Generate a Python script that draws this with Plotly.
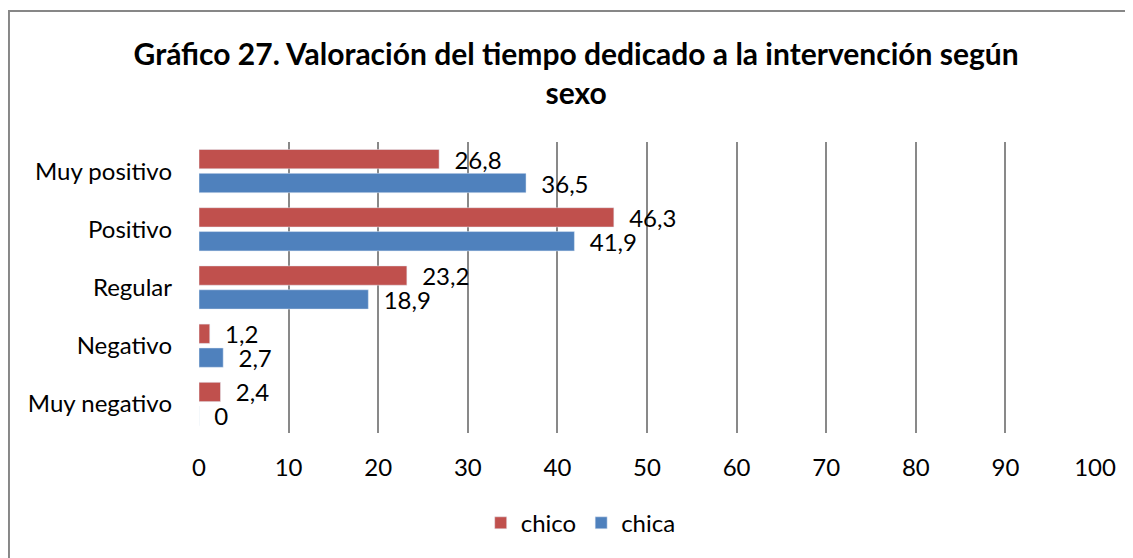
import plotly.graph_objects as go

categories = ["Muy positivo", "Positivo", "Regular", "Negativo", "Muy negativo"]
chico = [26.8, 46.3, 23.2, 1.2, 2.4]
chica = [36.5, 41.9, 18.9, 2.7, 0]
x_ticks = list(range(0, 101, 10))

title_text = "<b>Gráfico 27. Valoración del tiempo dedicado a la intervención según<br>sexo</b>"

RED = "#C0504D"
BLUE = "#4F81BD"
FONT = "Lato"
FS = 24


def fmt(v):
    return "\u00a0\u00a0" + f"{v:g}".replace(".", ",")


fig = go.Figure()
fig.add_trace(go.Bar(
    y=categories, x=chico, name="chico", orientation="h",
    marker=dict(color=RED),
    text=[fmt(v) for v in chico], textposition="outside",
    textfont=dict(family=FONT, size=FS, color="#000"),
    constraintext="none", cliponaxis=False,
))
fig.add_trace(go.Bar(
    y=categories, x=chica, name="chica", orientation="h",
    marker=dict(color=BLUE),
    text=[fmt(v) for v in chica], textposition="outside",
    textfont=dict(family=FONT, size=FS, color="#000"),
    constraintext="none", cliponaxis=False,
))

# page has an 8px body margin, so figure is sized/offset accordingly
fig.update_layout(
    width=1125, height=550,
    margin=dict(l=191, r=38, t=134, b=125, autoexpand=False),
    paper_bgcolor="white", plot_bgcolor="white",
    barmode="group", bargap=0.18, bargroupgap=0.19,
    font=dict(family=FONT, size=FS, color="#000"),
    title=dict(text=title_text, x=0.505, xanchor="center", xref="container",
               y=0.896, yanchor="middle", yref="container",
               font=dict(family=FONT, size=30, color="#000")),
    showlegend=True,
    legend=dict(orientation="h", x=0.426, xanchor="center",
                y=-0.31, yanchor="middle",
                font=dict(family=FONT, size=FS, color="#000"),
                traceorder="normal", itemwidth=30),
    xaxis=dict(range=[0, 100], tickvals=x_ticks, showgrid=True,
               gridcolor="#898989", gridwidth=1.5, zeroline=False,
               showline=False, ticks="", ticklabelstandoff=18, tickangle=0,
               automargin=False,
               tickfont=dict(family=FONT, size=FS, color="#000")),
    yaxis=dict(categoryorder="array", categoryarray=categories,
               autorange="reversed", showgrid=False, zeroline=False,
               showline=False, ticks="", ticklabelstandoff=26,
               automargin=False,
               tickfont=dict(family=FONT, size=FS, color="#000")),
    shapes=[dict(type="rect", xref="paper", yref="paper",
                 x0=-0.2121, x1=1.2, y0=-0.7, y1=1.450,
                 line=dict(color="#878787", width=2), fillcolor="rgba(0,0,0,0)",
                 layer="below")],
)

fig.write_html("out.html")
